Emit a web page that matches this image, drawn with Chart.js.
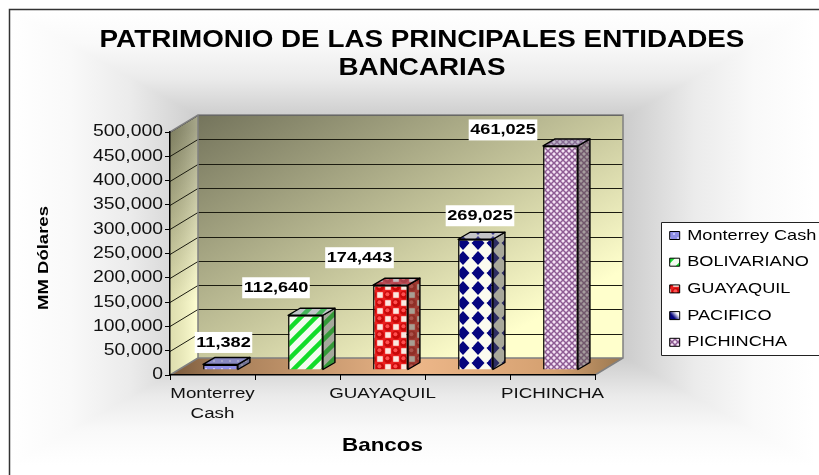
<!DOCTYPE html>
<html><head><meta charset="utf-8">
<style>html,body{margin:0;padding:0;background:#fff}canvas{display:block}</style>
<script src="https://cdn.jsdelivr.net/npm/chart.js@4"></script>
</head><body>
<canvas id="c" width="819" height="475"></canvas>
<script>
const categories = ['Monterrey Cash','BOLIVARIANO','GUAYAQUIL','PACIFICO','PICHINCHA'];
const values = [11382,112640,174443,269025,461025];
const xTickLabels = [['Monterrey','Cash'],null,'GUAYAQUIL',null,'PICHINCHA'];
const titleLines = ['PATRIMONIO DE LAS PRINCIPALES ENTIDADES','BANCARIAS'];
const labelOffsets = [[11,-27.5],[-21.5,-33],[-23,-33],[12.5,-29],[-49.5,-21.5]];
const FONT = '"Liberation Sans", Arial, sans-serif';
const WIDE = 1.21, WALL = [28,-17], BAR = [12,-7], SHIFT = [8,-5];

const canvas = document.getElementById('c');
const ctx = canvas.getContext('2d');
// the reference's type is horizontally wide: stretch all text along its baseline
const fillT = ctx.fillText.bind(ctx), measureT = ctx.measureText.bind(ctx);
ctx.fillText = (t,x,y,m)=>{ctx.save();ctx.translate(x,y);ctx.scale(WIDE,1);fillT(t,0,0);ctx.restore();};
ctx.measureText = t=>{const r=measureT(t);return {width:r.width*WIDE,actualBoundingBoxAscent:r.actualBoundingBoxAscent,actualBoundingBoxDescent:r.actualBoundingBoxDescent};};

function tile(w,h,draw){const c=document.createElement('canvas');c.width=w;c.height=h;const g=c.getContext('2d');draw(g,w,h);return ctx.createPattern(c,'repeat');}
const patterns = [
 tile(8,8,(g,w,h)=>{g.fillStyle='#8f8fe6';g.fillRect(0,0,w,h);g.fillStyle='#c4c4f6';g.fillRect(1,1,2,2);g.fillRect(5,5,2,2);}),
 tile(15,15,(g,w,h)=>{g.fillStyle='#f3fbf0';g.fillRect(0,0,w,h);g.strokeStyle='#12dc2a';g.lineWidth=4.5;
   [[0,15,15,0],[0,30,30,0],[-5,5,5,-5]].forEach(l=>{g.beginPath();g.moveTo(l[0],l[1]);g.lineTo(l[2],l[3]);g.stroke();});}),
 tile(16,16,(g,w,h)=>{g.fillStyle='#ea2020';g.fillRect(0,0,w,h);
   g.fillStyle='#fbe8e0';[[12,4],[4,12]].forEach(p=>g.fillRect(p[0]-2.8,p[1]-2.8,5.6,5.6));
   [[4,4],[12,12]].forEach(p=>{g.fillStyle='#c80808';g.beginPath();g.arc(p[0],p[1],4,0,7);g.fill();
     g.fillStyle='#ff5050';g.beginPath();g.arc(p[0]-.6,p[1]-.8,2,0,7);g.fill();});}),
 tile(15,15,(g,w,h)=>{g.fillStyle='#fbfbf0';g.fillRect(0,0,w,h);g.fillStyle='#05057e';
   [[5,8],[20,8],[-10,8],[5,23],[5,-7]].forEach(p=>{g.beginPath();g.moveTo(p[0],p[1]-7);g.lineTo(p[0]+6.5,p[1]);g.lineTo(p[0],p[1]+7);g.lineTo(p[0]-6.5,p[1]);g.closePath();g.fill();});}),
 tile(6,6,(g,w,h)=>{g.fillStyle='#f4e2f4';g.fillRect(0,0,w,h);g.strokeStyle='#8d5b93';g.lineWidth=1.5;
   g.beginPath();g.moveTo(0,0);g.lineTo(6,6);g.moveTo(6,0);g.lineTo(0,6);g.stroke();})
];
// the PACIFICO legend swatch reads as navy fading to white at this small size
const pacificoSwatch = ctx.createLinearGradient(669,320,680,310);
pacificoSwatch.addColorStop(.35,'#05057e');pacificoSwatch.addColorStop(.7,'#ffffff');

function poly(g,pts){g.beginPath();pts.forEach((p,i)=>i?g.lineTo(p[0],p[1]):g.moveTo(p[0],p[1]));g.closePath();}

const scenery = {
 id:'scenery',
 afterLayout(chart){
   chart.titleBlock.left = 25; chart.titleBlock.right = 819;
   const l = chart.legend; const w=l.width,h=l.height;
   l.left=658;l.top=216.3;l.right=658+w;l.bottom=216.3+h;
 },
 beforeDraw(chart){
   const g=chart.ctx,a=chart.chartArea;
   // page background: rectangular path gradient, white at the rim
   g.save();g.fillStyle='#fff';g.fillRect(0,0,819,475);
   const L=10,T=10,R=815,B=465,cx=412,cy=237;
   const faces=[[[L,T],[R,T],[cx,T],[cx,cy]],[[R,T],[R,B],[R,cy],[cx,cy]],[[R,B],[L,B],[cx,B],[cx,cy]],[[L,B],[L,T],[L,cy],[cx,cy]]];
   faces.forEach(f=>{const gr=g.createLinearGradient(f[2][0],f[2][1],f[3][0],f[3][1]);
     gr.addColorStop(0,'#ffffff');gr.addColorStop(.15,'#f9f9f9');gr.addColorStop(.3,'#ebebeb');gr.addColorStop(.52,'#c4c4c4');gr.addColorStop(1,'#a8a8a8');
     poly(g,[f[0],f[1],[cx,cy]]);g.fillStyle=gr;g.fill();g.strokeStyle=gr;g.lineWidth=1;g.stroke();});
   g.strokeStyle='#333';g.lineWidth=1.5;g.beginPath();g.moveTo(9.5,475);g.lineTo(9.5,9.5);g.lineTo(819,9.5);g.stroke();
   // legend panel
   g.fillStyle='#fff';g.fillRect(661,222,158,134);
   g.strokeStyle='#222';g.lineWidth=1;
   g.beginPath();g.moveTo(819,222.5);g.lineTo(661.5,222.5);g.lineTo(661.5,355.5);g.lineTo(819,355.5);g.stroke();

   const [wx,wy]=WALL, l=a.left,r=a.right,t=a.top,b=a.bottom;
   // back wall
   const bw=g.createLinearGradient(l+wx,t+wy,l+wx+170,t+wy+300);
   bw.addColorStop(0,'#74745c');bw.addColorStop(.6,'#c6c69c');bw.addColorStop(1,'#ffffcc');
   poly(g,[[l+wx,t+wy],[r+wx,t+wy],[r+wx,b+wy],[l+wx,b+wy]]);g.fillStyle=bw;g.fill();
   // side wall
   const sw=g.createLinearGradient(l,t,l+20,t+170);
   sw.addColorStop(0,'#8c8c6e');sw.addColorStop(1,'#ffffcc');
   poly(g,[[l,t],[l+wx,t+wy],[l+wx,b+wy],[l,b]]);g.fillStyle=sw;g.fill();
   const sh=g.createLinearGradient(l,0,l+wx,0);
   sh.addColorStop(0,'rgba(70,70,40,.18)');sh.addColorStop(1,'rgba(255,255,230,.25)');g.fillStyle=sh;g.fill();
   // floor
   const fl=g.createLinearGradient(l,0,r+wx,0);
   fl.addColorStop(0,'#7a5a3c');fl.addColorStop(.12,'#a67e58');fl.addColorStop(.55,'#ecb688');fl.addColorStop(.85,'#d4a070');fl.addColorStop(1,'#9a7850');
   poly(g,[[l,b],[r,b],[r+wx,b+wy],[l+wx,b+wy]]);g.fillStyle=fl;g.fill();
   // gridlines from the value scale
   g.strokeStyle='#1c1c10';g.lineWidth=1;
   chart.scales.y.ticks.forEach(k=>{const y=Math.round(chart.scales.y.getPixelForValue(k.value))+.5;
     if(k.value===0) return;
     g.beginPath();g.moveTo(l,y);g.lineTo(l+wx,y+wy);g.lineTo(r+wx,y+wy);g.stroke();});
   // wall edges
   g.strokeStyle='#808080';g.lineWidth=1.5;
   g.beginPath();g.moveTo(l,t);g.lineTo(l+wx,t+wy);g.lineTo(r+wx,t+wy);g.lineTo(r+wx,b+wy);g.lineTo(r,b);
   g.moveTo(l+wx,t+wy);g.lineTo(l+wx,b+wy);g.lineTo(r+wx,b+wy);g.moveTo(l+wx,b+wy);g.lineTo(l,b);g.stroke();
   g.restore();
 },
 beforeDatasetsDraw(chart){
   const g=chart.ctx,[dx,dy]=BAR,xs=chart.scales.x;
   // category boundary ticks on the front edge of the floor
   g.save();g.strokeStyle='#000';g.lineWidth=1;
   for(let i=0;i<=categories.length;i++){const x=Math.round(xs.getPixelForValue(i-.5))+.5;
     g.beginPath();g.moveTo(x,xs.top);g.lineTo(x,xs.top+5);g.stroke();}
   g.restore();
   g.save();g.translate(SHIFT[0],SHIFT[1]);g.strokeStyle='#000';g.lineWidth=1.4;g.lineJoin='round';
   chart.getDatasetMeta(0).data.forEach((e,i)=>{
     const p=e.getProps(['x','y','base','width']),L=p.x-p.width/2,R=p.x+p.width/2;
     poly(g,[[R,p.y],[R+dx,p.y+dy],[R+dx,p.base+dy],[R,p.base]]);
     g.fillStyle=patterns[i];g.fill();g.fillStyle='rgba(85,85,70,.5)';g.fill();g.stroke();
     poly(g,[[L,p.y],[L+dx,p.y+dy],[R+dx,p.y+dy],[R,p.y]]);
     g.fillStyle=patterns[i];g.fill();g.fillStyle='rgba(130,130,150,.45)';g.fill();g.stroke();
   });
   g.restore();
 },
 beforeDatasetDraw(chart){chart.ctx.save();chart.ctx.translate(SHIFT[0],SHIFT[1]);},
 afterDatasetDraw(chart){chart.ctx.restore();},
 afterDatasetsDraw(chart){
   const g=chart.ctx;
   g.save();g.font='bold 15px '+FONT;g.textAlign='center';g.textBaseline='middle';
   chart.getDatasetMeta(0).data.forEach((e,i)=>{
     const txt=values[i].toLocaleString('en-US'),cx=e.x+labelOffsets[i][0],cy=e.y+labelOffsets[i][1];
     const w=g.measureText(txt).width+3;
     g.fillStyle='#fff';g.fillRect(cx-w/2,cy-10,w,21);
     g.fillStyle='#000';g.fillText(txt,cx,cy+.5);
   });
   g.restore();
   // value-axis title sits a little below the middle of the axis in the reference
   g.save();g.translate(44,258);g.rotate(-Math.PI/2);g.font='bold 15.3px '+FONT;g.textAlign='center';g.textBaseline='middle';
   g.fillStyle='#000';g.fillText('MM Dólares',0,0);g.restore();
 }
};

new Chart(ctx,{
 type:'bar',
 data:{labels:categories,datasets:[{data:values,backgroundColor:patterns,borderColor:'#000',borderWidth:1.5,
   barPercentage:1,categoryPercentage:.41,clip:false}]},
 plugins:[scenery],
 options:{
  responsive:false,animation:false,devicePixelRatio:1,
  layout:{padding:{left:36,right:224,top:10,bottom:18}},
  plugins:{
   tooltip:{enabled:false},
   title:{display:true,text:titleLines,color:'#000',font:{family:FONT,size:23,weight:'bold',lineHeight:1.25},padding:{top:16,bottom:48.5}},
   legend:{position:'chartArea',align:'start',
     labels:{boxWidth:10,boxHeight:8,padding:11.7,color:'#000',font:{family:FONT,size:15},
       generateLabels:ch=>categories.map((t,i)=>({text:t,fillStyle:i===3?pacificoSwatch:patterns[i],strokeStyle:'#000',lineWidth:1,index:i,datasetIndex:0}))}}
  },
  scales:{
   x:{position:'bottom',offset:true,
      afterFit:s=>{s.height=82;},
      border:{color:'#000',width:1.5},
      grid:{display:false},
      ticks:{autoSkip:false,maxRotation:0,minRotation:0,padding:0,color:'#111',font:{family:FONT,size:15.5,lineHeight:1.33},
        callback:(v,i)=>xTickLabels[i]},
      title:{display:true,text:'Bancos',color:'#000',font:{family:FONT,size:18.5,weight:'bold'},padding:{top:10,bottom:0}}},
   y:{min:0,max:500000,
      afterFit:s=>{s.width=134;},
      border:{color:'#000',width:1.5},
      grid:{display:true,drawOnChartArea:false,drawTicks:true,tickLength:5,color:'#000'},
      ticks:{stepSize:50000,padding:2,color:'#111',font:{family:FONT,size:16},callback:v=>v.toLocaleString('en-US')}}
  }
 }
});
</script>
</body></html>
